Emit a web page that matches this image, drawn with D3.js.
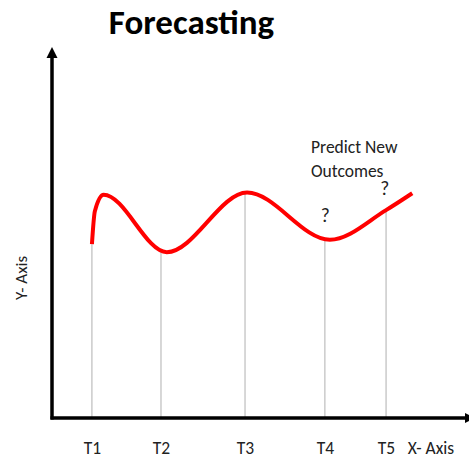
<!DOCTYPE html>
<html>
<head>
<meta charset="utf-8">
<script src="https://cdn.jsdelivr.net/npm/d3@7"></script>
<style>
  html, body { margin: 0; padding: 0; background: #fff; }
  svg { display: block; }
  text { font-family: Carlito, Lato, "Open Sans", sans-serif; fill: #222; }
</style>
</head>
<body>
<svg id="chart" width="469" height="460"></svg>
<script>
// Time positions along the x axis (0–100) and the series level (0–100)
const curveTimes  = [9.6, 10.3, 12.4, 27.6, 46.9, 66.8, 80.3, 86.6];
const curveValues = [47.5, 56.5, 61.0, 45.3, 61.6, 48.7, 56.8, 61.4];

// Time-step markers and their labels
const stepTimes  = [9.6, 26.2, 46.4, 65.6, 80.3];
const stepLabels = ["T1", "T2", "T3", "T4", "T5"];

// Question marks for the predicted points
const questionTimes  = [65.7, 80.0];
const questionValues = [53.5, 60.8];

const title = "Forecasting";
const xAxisTitle = "X- Axis";
const yAxisTitle = "Y- Axis";
const noteLines = ["Predict New", "Outcomes"];

const svg = d3.select("#chart");
const W = 469, H = 460;
const origin = { x: 52, y: 418 };

const x = d3.scaleLinear().domain([0, 100]).range([origin.x, 468]);
const y = d3.scaleLinear().domain([0, 100]).range([origin.y, 52]);

// Title
svg.append("text")
  .attr("x", 191.5).attr("y", 34)
  .attr("text-anchor", "middle")
  .style("font-weight", "bold")
  .style("font-size", "35px")
  .style("fill", "#000")
  .text(title);

// Series curve
const line = d3.line()
  .x(d => x(d[0]))
  .y(d => y(d[1]))
  .curve(d3.curveMonotoneX);

const pts = d3.zip(curveTimes, curveValues);

const curvePath = svg.append("path")
  .datum(pts)
  .attr("d", line)
  .attr("fill", "none")
  .attr("stroke", "#ff0000")
  .attr("stroke-width", 4)
  .attr("stroke-linecap", "butt");

// Find the curve height at a given x by sampling the path
const node = curvePath.node();
const total = node.getTotalLength();
const samples = d3.range(0, total + 0.5, 0.5).map(l => node.getPointAtLength(l));
function curveYAt(px) {
  let best = samples[0];
  for (const s of samples) if (Math.abs(s.x - px) < Math.abs(best.x - px)) best = s;
  return best.y;
}

// Drop lines from the curve to the time axis
svg.insert("g", "path")
  .selectAll("line")
  .data(stepTimes)
  .join("line")
  .attr("x1", d => x(d)).attr("x2", d => x(d))
  .attr("y1", d => curveYAt(x(d)))
  .attr("y2", origin.y)
  .attr("stroke", "#b0b0b0")
  .attr("stroke-width", 1);

// Axes with arrowheads
const axisG = svg.append("g");
axisG.append("line")
  .attr("x1", origin.x).attr("y1", origin.y + 1.5)
  .attr("x2", origin.x).attr("y2", 56)
  .attr("stroke", "#000").attr("stroke-width", 3.5);
axisG.append("path")
  .attr("d", `M${origin.x},47 L${origin.x - 5.5},58 L${origin.x + 5.5},58 Z`)
  .attr("fill", "#000");
axisG.append("line")
  .attr("x1", origin.x - 1.5).attr("y1", origin.y)
  .attr("x2", W).attr("y2", origin.y)
  .attr("stroke", "#000").attr("stroke-width", 3.5);
axisG.append("path")
  .attr("d", `M${W + 6},${origin.y} L${W - 4},${origin.y - 5} L${W - 4},${origin.y + 5} Z`)
  .attr("fill", "#000");

// Time-step labels
const xAxis = d3.axisBottom(x)
  .tickValues(stepTimes)
  .tickFormat((d, i) => stepLabels[i])
  .tickSize(0)
  .tickPadding(24);
const xg = svg.append("g")
  .attr("transform", `translate(0,${origin.y})`)
  .call(xAxis);
xg.select(".domain").remove();
xg.selectAll("text")
  .attr("dy", 0)
  .attr("y", 36)
  .style("font-size", "17.5px")
  .style("font-family", "Carlito, Lato, 'Open Sans', sans-serif")
  .style("fill", "#222");

// Axis titles
svg.append("text")
  .attr("x", 431).attr("y", origin.y + 36)
  .attr("text-anchor", "middle")
  .style("font-size", "17.5px")
  .text(xAxisTitle);

svg.append("text")
  .attr("transform", `translate(27,278) rotate(-90)`)
  .attr("text-anchor", "middle")
  .style("font-size", "17px")
  .text(yAxisTitle);

// Annotation
svg.append("g")
  .selectAll("text")
  .data(noteLines)
  .join("text")
  .attr("x", 311)
  .attr("y", (d, i) => 153 + i * 23.5)
  .style("font-size", "17.5px")
  .text(d => d);

svg.append("g")
  .selectAll("text")
  .data(d3.zip(questionTimes, questionValues))
  .join("text")
  .attr("x", d => x(d[0]))
  .attr("y", d => y(d[1]))
  .attr("text-anchor", "middle")
  .style("font-size", "19.5px")
  .text("?");
</script>
</body>
</html>
